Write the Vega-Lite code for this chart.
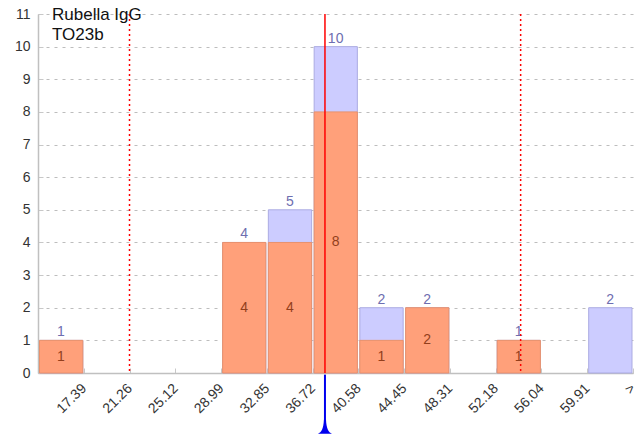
{
  "$schema": "https://vega.github.io/schema/vega-lite/v6.json",
  "width": 595,
  "height": 359,
  "autosize": {"type": "none"},
  "padding": {"left": 38, "top": 14, "right": 10, "bottom": 61},
  "background": "white",
  "config": {
    "font": "Liberation Sans",
    "view": {"stroke": null},
    "axisY": {
      "labelFontSize": 14,
      "labelColor": "#333333",
      "labelPadding": 13,
      "labelOverlap": false,
      "tickSize": -5,
      "tickColor": "#c8c8c8",
      "domainColor": "#c0c0c0",
      "domainWidth": 1.5,
      "grid": true,
      "gridColor": "#bdbdbd",
      "gridDash": [3, 5],
      "gridWidth": 1,
      "title": null
    }
  },
  "title": {
    "text": ["Rubella IgG", "TO23b"],
    "anchor": "start",
    "frame": "group",
    "orient": "top",
    "baseline": "top",
    "offset": -37,
    "dx": 14,
    "fontSize": 17,
    "fontWeight": "normal",
    "color": "#111111",
    "lineHeight": 20
  },
  "datasets": {
    "bins": [
      {"lo": 13.52, "hi": 17.39, "total": 1, "orange": 1},
      {"lo": 17.39, "hi": 21.26, "total": 0, "orange": 0},
      {"lo": 21.26, "hi": 25.12, "total": 0, "orange": 0},
      {"lo": 25.12, "hi": 28.99, "total": 0, "orange": 0},
      {"lo": 28.99, "hi": 32.85, "total": 4, "orange": 4},
      {"lo": 32.85, "hi": 36.72, "total": 5, "orange": 4},
      {"lo": 36.72, "hi": 40.58, "total": 10, "orange": 8},
      {"lo": 40.58, "hi": 44.45, "total": 2, "orange": 1},
      {"lo": 44.45, "hi": 48.31, "total": 2, "orange": 2},
      {"lo": 48.31, "hi": 52.18, "total": 0, "orange": 0},
      {"lo": 52.18, "hi": 56.04, "total": 1, "orange": 1},
      {"lo": 56.04, "hi": 59.91, "total": 0, "orange": 0},
      {"lo": 59.91, "hi": 63.78, "total": 2, "orange": 0}
    ],
    "limits": [
      {"v": 21.25},
      {"v": 54.29}
    ],
    "target": [
      {"v": 37.76}
    ]
  },
  "layer": [
    {
      "layer": [
        {
          "data": {"name": "bins"},
          "transform": [{"filter": "datum.total > 0"}],
          "mark": {"type": "bar", "fill": "#ccccff", "stroke": "#ababe2", "strokeWidth": 1, "xOffset": 1.5, "x2Offset": -1},
          "encoding": {
            "x": {
              "field": "lo", "type": "quantitative",
              "scale": {"domain": [13.52, 63.78], "nice": false, "zero": false},
              "axis": {
                "values": [17.39, 21.26, 25.12, 28.99, 32.85, 36.72, 40.58, 44.45, 48.31, 52.18, 56.04, 59.91, 63.78],
                "labelExpr": "datum.value > 60 ? '>' : format(datum.value, '.2f')",
                "labelAngle": -45,
                "labelAlign": "right",
                "labelBaseline": "middle",
                "labelFontSize": 14,
                "labelColor": "#333333",
                "labelPadding": 18,
                "tickSize": -5,
                "tickColor": "#c8c8c8",
                "domainColor": "#c0c0c0",
                "domainWidth": 1.5,
                "grid": false,
                "title": null,
                "labelOverlap": false
              }
            },
            "x2": {"field": "hi"},
            "y": {
              "field": "total", "type": "quantitative",
              "scale": {"domain": [0, 11], "nice": false},
              "axis": {"values": [0, 1, 2, 3, 4, 5, 6, 7, 8, 9, 10, 11]}
            },
            "y2": {"datum": 0}
          }
        },
        {
          "data": {"name": "bins"},
          "transform": [{"filter": "datum.orange > 0"}],
          "mark": {"type": "bar", "fill": "#ffa07a", "stroke": "#e8916c", "strokeWidth": 1, "xOffset": 1.5, "x2Offset": -1},
          "encoding": {
            "x": {"field": "lo", "type": "quantitative"},
            "x2": {"field": "hi"},
            "y": {"field": "orange", "type": "quantitative", "axis": {"values": [0, 1, 2, 3, 4, 5, 6, 7, 8, 9, 10, 11]}},
            "y2": {"datum": 0}
          }
        },
        {
          "data": {"name": "bins"},
          "transform": [{"filter": "datum.total > 0"}],
          "mark": {"type": "text", "fontSize": 14, "color": "#6e6eb0", "baseline": "alphabetic", "dy": -4, "dx": 23},
          "encoding": {
            "x": {"field": "lo", "type": "quantitative"},
            "y": {"field": "total", "type": "quantitative", "axis": {"values": [0, 1, 2, 3, 4, 5, 6, 7, 8, 9, 10, 11]}},
            "text": {"field": "total"}
          }
        },
        {
          "data": {"name": "limits"},
          "mark": {"type": "rule", "color": "#ff0000", "strokeWidth": 1.5, "strokeDash": [2, 3]},
          "encoding": {
            "x": {"field": "v", "type": "quantitative"}
          }
        },
        {
          "data": {"name": "target"},
          "mark": {"type": "rule", "color": "#ff0000", "strokeWidth": 1.5},
          "encoding": {
            "x": {"field": "v", "type": "quantitative"}
          }
        },
        {
          "data": {"name": "target"},
          "mark": {"type": "rule", "color": "#0000ee", "strokeWidth": 2},
          "encoding": {
            "x": {"field": "v", "type": "quantitative"},
            "y": {"datum": -0.05, "axis": {"values": [0, 1, 2, 3, 4, 5, 6, 7, 8, 9, 10, 11]}},
            "y2": {"datum": -1.6}
          }
        },
        {
          "data": {"name": "target"},
          "mark": {"type": "point", "filled": true, "color": "#0000ee", "opacity": 1, "size": 196,
            "shape": "M -0.15 -1 L 0.15 -1 C 0.2 0.2 0.5 0.8 1 1 L -1 1 C -0.5 0.8 -0.2 0.2 -0.15 -1 Z"},
          "encoding": {
            "x": {"field": "v", "type": "quantitative"},
            "y": {"datum": -1.65, "axis": {"values": [0, 1, 2, 3, 4, 5, 6, 7, 8, 9, 10, 11]}}
          }
        }
      ]
    },
    {
      "data": {"name": "bins"},
      "transform": [{"filter": "datum.orange > 0"}],
      "mark": {"type": "text", "fontSize": 14, "color": "#923f1c", "baseline": "middle", "dx": 23},
      "encoding": {
        "x": {"field": "lo", "type": "quantitative"},
        "y": {"field": "orange", "type": "quantitative", "scale": {"domain": [0, 22], "nice": false}, "axis": null},
        "text": {"field": "orange"}
      }
    }
  ],
  "resolve": {"scale": {"y": "independent"}}
}
